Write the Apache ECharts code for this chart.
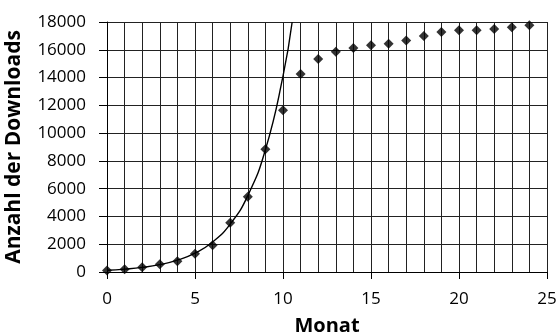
<!DOCTYPE html>
<html>
<head>
<meta charset="utf-8">
<script src="https://cdn.jsdelivr.net/npm/echarts@6/dist/echarts.min.js"></script>
<style>
  html, body { margin: 0; padding: 0; background: #fff; }
  #chart { width: 559px; height: 336px; }
</style>
</head>
<body>
<div id="chart"></div>
<script>
// Monthly download counts
const months = [0, 1, 2, 3, 4, 5, 6, 7, 8, 9, 10, 11, 12, 13, 14, 15, 16, 17, 18, 19, 20, 21, 22, 23, 24];
const downloads = [100, 200, 350, 550, 770, 1320, 1920, 3550, 5420, 8830, 11640, 14260,
  15340, 15860, 16130, 16320, 16440, 16660, 16990, 17280, 17400, 17400, 17500, 17620, 17760];

// Exponential trend line, clipped at the top of the axis
const trendMonths = [0, 1, 2, 3, 4, 5, 6, 7, 8, 9, 10, 10.52];
const trendValues = [130, 210, 330, 530, 850, 1360, 2160, 3450, 5500, 8800, 14100, 18000];

const xTicks = [0, 5, 10, 15, 20, 25];
const yTicks = [0, 2000, 4000, 6000, 8000, 10000, 12000, 14000, 16000, 18000];

const FONT = 'Open Sans';
const gridLine = { show: true, lineStyle: { color: '#222', width: 1 } };

const chart = echarts.init(document.getElementById('chart'), null, { renderer: 'canvas' });
chart.setOption({
  animation: false,
  backgroundColor: '#fff',
  grid: { left: 107, right: 12, top: 22, bottom: 64, containLabel: false, outerBoundsMode: 'none' },
  xAxis: {
    type: 'value',
    min: xTicks[0],
    max: xTicks[xTicks.length - 1],
    interval: 5,
    name: 'Monat',
    nameLocation: 'middle',
    nameGap: 44,
    nameTextStyle: { fontFamily: FONT, fontSize: 20, fontWeight: 'bold', color: '#000' },
    axisLine: { show: true, lineStyle: { color: '#000', width: 1 } },
    axisTick: { show: true, length: 7, lineStyle: { color: '#000' } },
    axisLabel: { fontFamily: FONT, fontSize: 17, color: '#000', margin: 19, formatter: v => String(v) },
    splitLine: gridLine,
    minorTick: { show: false, splitNumber: 5 },
    minorSplitLine: gridLine
  },
  yAxis: {
    type: 'value',
    min: yTicks[0],
    max: yTicks[yTicks.length - 1],
    interval: 2000,
    name: 'Anzahl der Downloads',
    nameLocation: 'middle',
    nameGap: 82,
    nameTextStyle: { fontFamily: FONT, fontSize: 21, fontWeight: 'bold', color: '#000' },
    axisLine: { show: true, lineStyle: { color: '#000', width: 1 } },
    axisTick: { show: true, length: 8, lineStyle: { color: '#000' } },
    axisLabel: { fontFamily: FONT, fontSize: 17, color: '#000', margin: 21, formatter: v => String(v) },
    splitLine: gridLine
  },
  series: [
    {
      name: 'Trend',
      type: 'line',
      data: trendMonths.map((m, i) => [m, trendValues[i]]),
      showSymbol: false,
      smooth: 0.5,
      lineStyle: { color: '#000', width: 1.4 },
      z: 3
    },
    {
      name: 'Downloads',
      type: 'scatter',
      data: months.map((m, i) => [m, downloads[i]]),
      symbol: 'diamond',
      symbolSize: 10,
      itemStyle: { color: '#000' },
      z: 4
    }
  ]
});
</script>
</body>
</html>
